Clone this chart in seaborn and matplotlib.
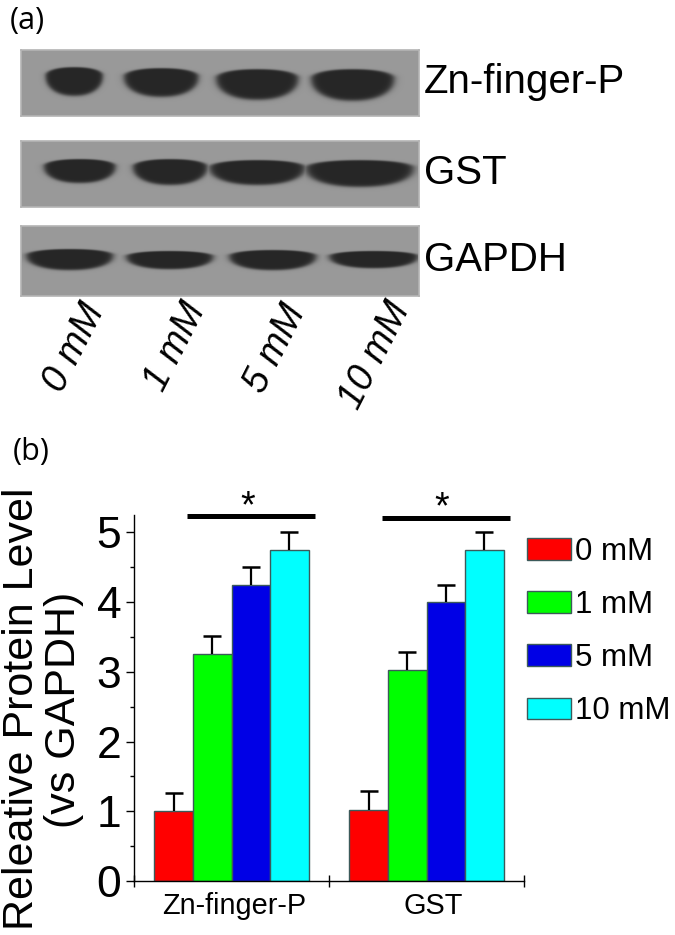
#!/usr/bin/env python3
import numpy as np
import pandas as pd
import matplotlib
matplotlib.use("Agg")
import matplotlib.pyplot as plt
from matplotlib.ticker import MultipleLocator, NullFormatter
import seaborn as sns

W, H = 675, 935

proteins = ["Zn-finger-P", "GST"]
doses = ["0 mM", "1 mM", "5 mM", "10 mM"]
zn_values = [1.0, 3.25, 4.25, 4.75]
gst_values = [1.02, 3.02, 4.0, 4.75]
zn_err = [0.26, 0.26, 0.25, 0.25]
gst_err = [0.27, 0.27, 0.25, 0.25]
colors = ["#ff0000", "#00ff00", "#0000e6", "#00ffff"]

blot_names = ["Zn-finger-P", "GST", "GAPDH"]
# band extents on each blot: left, right, top, bottom, pixels of the picture
zn_bands = [(46, 102, 68, 95), (124, 198, 69, 96), (216, 298, 70, 99), (311, 394, 70, 100)]
gst_bands = [(44, 115, 160, 182), (133, 207, 160, 184), (209, 305, 161, 184), (305, 414, 161, 186)]
gapdh_bands = [(26, 113, 250, 269), (126, 213, 252, 268), (229, 316, 251, 269), (329, 418, 252, 267)]
blot_boxes = [(21, 419, 50, 116), (21, 419, 141, 207), (21, 419, 226, 296)]


def draw_blot(fig, box, bands):
    x0, x1, y0, y1 = box
    ax = fig.add_axes([x0 / W, 1 - y1 / H, (x1 - x0) / W, (y1 - y0) / H])
    xx, yy = np.meshgrid(np.arange(x0, x1, 0.5), np.arange(y0, y1, 0.5))
    dark = np.zeros_like(xx)
    for left, right, top, bottom in bands:
        cx = (left + right) / 2
        rx = (right - left) / 2 + 2
        cy = top + (bottom - top) * 0.28
        ry = np.where(yy < cy, cy - top + 1.5, bottom - cy + 1.5)
        r = (np.abs((xx - cx) / rx) ** 2.2 + np.abs((yy - cy) / ry) ** 2.2) ** (1 / 2.2)
        dark = np.maximum(dark, 1 / (1 + np.exp((r - 0.95) * 22)))
    img = 0.60 - 0.45 * dark
    ax.imshow(img, cmap="gray", vmin=0, vmax=1, aspect="auto", interpolation="bilinear")
    ax.set_xticks([])
    ax.set_yticks([])
    for s in ax.spines.values():
        s.set_color("#b4b4b4")
        s.set_linewidth(1.2)


def draw_bars(fig):
    ax = fig.add_axes([134 / W, 1 - 881 / H, 390 / W, 366 / H])
    df = pd.DataFrame({
        "protein": [p for p in proteins for _ in doses],
        "dose": doses * 2,
        "level": zn_values + gst_values,
    })
    sns.barplot(data=df, x="protein", y="level", hue="dose", palette=colors, saturation=1,
                width=0.79, gap=0, errorbar=None, edgecolor="#3c5a5a", linewidth=1.0, ax=ax)
    bars = sorted(ax.containers[0].patches + ax.containers[1].patches
                  + ax.containers[2].patches + ax.containers[3].patches,
                  key=lambda b: b.get_x())
    errs = zn_err + gst_err
    for b, e in zip(bars, errs):
        eb = ax.errorbar(b.get_x() + b.get_width() / 2, b.get_height(), yerr=[[0], [e]], color="black",
                         capsize=6.5, elinewidth=1.6, capthick=1.8)
        eb[1][0].set_visible(False)  # upper whisker only

    # significance bars sit over the groups, one star each
    ax.plot([-0.23, 0.43], [5.24, 5.24], color="black", lw=3.6, clip_on=False, solid_capstyle="butt")
    ax.plot([0.77, 1.43], [5.21, 5.21], color="black", lw=3.6, clip_on=False, solid_capstyle="butt")
    ax.text(0.085, 5.36, "*", fontsize=27, ha="center", va="center", clip_on=False)
    ax.text(1.08, 5.34, "*", fontsize=27, ha="center", va="center", clip_on=False)

    ax.set_xlim(-0.5, 1.5)
    ax.set_ylim(0, 5.25)
    ax.set_xticks([-0.5, 0.5, 1.5])
    ax.xaxis.set_major_formatter(NullFormatter())
    ax.set_xticks([0.012, 1.035], proteins, minor=True)
    ax.tick_params(axis="x", which="major", direction="inout", length=8, width=1)
    ax.tick_params(axis="x", which="minor", length=0, labelsize=20.8, pad=8)
    ax.set_yticks([0, 1, 2, 3, 4, 5])
    ax.yaxis.set_minor_locator(MultipleLocator(0.5))
    ax.tick_params(axis="y", which="major", length=6, width=1, labelsize=32, pad=3)
    ax.tick_params(axis="y", which="minor", length=3, width=1)
    ax.set_xlabel("")
    ax.set_ylabel("")
    sns.despine(ax=ax)
    for s in ("left", "bottom"):
        ax.spines[s].set_linewidth(1.0)
    ax.patch.set_alpha(0)

    ax.legend(frameon=False, fontsize=22.5, handlelength=1.41, handleheight=0.7,
              handletextpad=0.13, labelspacing=0.74, borderaxespad=0, borderpad=0,
              loc="upper left", bbox_to_anchor=(527 / W, 1 - 537 / H),
              bbox_transform=fig.transFigure)
    return ax


def main():
    sns.set_theme(style="ticks", rc={"text.color": "black", "axes.labelcolor": "black",
                                     "xtick.color": "black", "ytick.color": "black",
                                     "axes.edgecolor": "black"})
    plt.rcParams["font.family"] = ["Liberation Sans", "DejaVu Sans"]
    fig = plt.figure(figsize=(W / 100, H / 100), dpi=100)

    for box, bands in zip(blot_boxes, [zn_bands, gst_bands, gapdh_bands]):
        draw_blot(fig, box, bands)

    for name, y in zip(blot_names, [82, 173, 260]):
        fig.text(424 / W, 1 - y / H, name, fontsize=29, ha="left", va="center")

    for dose, x, y in zip(doses, [74, 175, 275, 375], [348, 347, 349, 355]):
        fig.text(x / W, 1 - y / H, dose, fontsize=27, style="italic",
                 rotation=63, rotation_mode="anchor", ha="center", va="center")

    fig.text(10 / W, 1 - 21 / H, "(a)", fontsize=22, family="Open Sans", va="center")
    fig.text(13 / W, 1 - 452 / H, "(b)", fontsize=22, family="Open Sans", va="center")

    draw_bars(fig)
    fig.text(22 / W, 1 - 709 / H, "Releative Protein Level", fontsize=31, rotation=90,
             ha="center", va="center")
    fig.text(64 / W, 1 - 710 / H, "(vs GAPDH)", fontsize=31, rotation=90, ha="center", va="center")

    fig.savefig("out.png", dpi=100)
    plt.close(fig)


if __name__ == "__main__":
    main()
